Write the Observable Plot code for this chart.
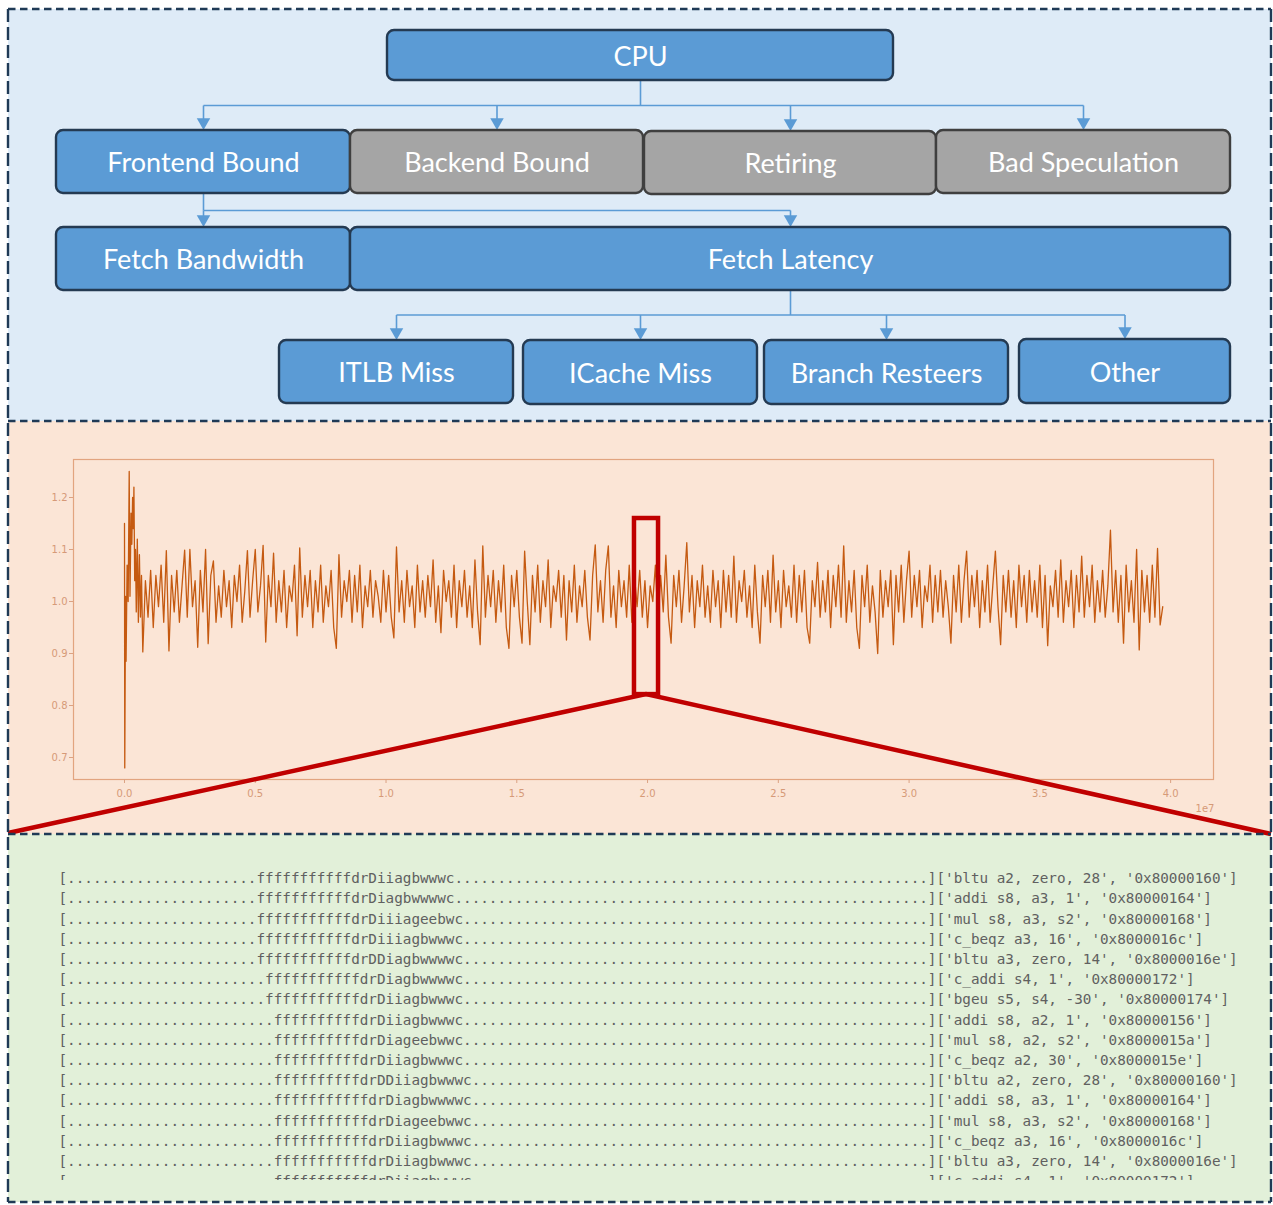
<!DOCTYPE html>
<html><head><meta charset="utf-8">
<script src="https://cdn.jsdelivr.net/npm/d3@7"></script>
<script src="https://cdn.jsdelivr.net/npm/@observablehq/plot@0.6"></script>
<style>
html,body{margin:0;padding:0;background:#fff;}
#fig{position:relative;width:1273px;height:1205px;overflow:hidden;}
#fig > svg{position:absolute;left:0;}
</style></head><body><div id="fig"></div>
<script>
// ---------------- DATA ----------------
// Top-down taxonomy (node, parent, on the analysed path)
const treeNodes   = ["CPU","Frontend Bound","Backend Bound","Retiring","Bad Speculation","Fetch Bandwidth","Fetch Latency","ITLB Miss","ICache Miss","Branch Resteers","Other"];
const treeParents = [null,"CPU","CPU","CPU","CPU","Frontend Bound","Frontend Bound","Fetch Latency","Fetch Latency","Fetch Latency","Fetch Latency"];
const treeOnPath  = [true,true,false,false,false,true,true,true,true,true,true];

// Time series: warm-up samples (cycles, value) then regularly sampled steady part
const warmupT = [0,1e4,4e4,6e4,1.0e5,1.4e5,1.8e5,2.1e5,2.5e5,2.8e5,3.1e5,3.4e5,3.6e5,3.9e5,4.2e5,4.5e5,4.9e5,5.3e5,5.7e5,6.1e5,6.5e5];
const warmupV = [1.15,0.68,1.01,0.885,1.07,1.00,1.25,1.01,1.17,1.11,1.20,1.14,1.22,1.04,1.10,0.98,1.12,0.96,1.09,0.97,1.05];
const steadyStart = 7e5;
const sampleStep = 1e5;
const steadyValues = [
0.903,1.04,0.97,1.06,0.95,1.05,0.99,1.07,0.96,1.098,
0.905,1.05,0.98,1.06,0.96,1.03,1.099,0.97,1.10,0.99,
1.04,0.912,1.06,0.98,1.10,0.919,1.05,1.078,0.96,1.03,
0.97,1.06,0.99,1.04,0.95,1.05,1.00,1.07,0.96,1.02,
1.098,0.97,1.04,1.10,0.98,1.03,1.108,0.922,1.05,0.99,
1.093,0.96,1.04,0.98,1.06,0.95,1.03,1.00,1.07,0.934,
1.103,0.97,1.05,0.99,1.06,0.95,1.04,0.98,1.07,0.96,
1.03,0.99,1.06,0.95,0.91,1.09,0.97,1.04,1.00,1.06,
0.96,1.05,0.98,1.07,0.95,1.03,0.99,1.06,0.97,1.04,
1.01,0.96,1.06,0.98,1.05,0.97,0.93,1.105,0.98,1.04,
0.96,1.06,0.99,1.03,0.95,1.07,0.98,1.04,0.97,1.05,
0.99,1.08,0.96,1.03,0.94,1.06,1.00,1.04,0.97,1.07,
0.95,1.04,0.99,1.06,0.97,1.03,0.95,1.08,0.98,0.917,
1.107,0.97,1.05,0.99,1.06,0.96,1.04,0.98,1.07,0.95,
0.91,1.05,0.99,1.06,0.97,0.92,1.097,1.00,0.917,1.05,
0.98,1.07,0.96,1.04,0.99,1.08,0.95,1.03,1.00,1.06,
0.97,1.05,0.926,1.04,0.98,1.07,0.96,1.03,0.99,1.06,
0.97,0.926,1.05,1.109,0.98,1.04,0.96,1.06,1.107,0.97,
1.03,0.95,1.06,0.99,1.04,0.97,1.07,0.96,1.05,0.99,
1.06,0.97,1.04,0.95,1.03,1.00,1.07,0.96,1.05,0.98,
1.089,0.97,0.92,1.05,0.99,1.06,0.96,1.03,1.113,0.98,
1.05,0.95,1.04,0.99,1.07,0.97,1.03,0.96,1.06,0.99,
1.04,0.95,1.06,0.98,1.05,0.97,1.087,0.96,1.04,1.00,
1.06,0.97,1.03,0.95,1.07,0.98,0.92,1.05,0.99,1.06,
0.96,1.089,0.98,1.04,0.95,1.06,0.99,1.03,0.97,1.07,
0.96,1.05,0.98,1.06,0.95,0.92,1.04,0.99,1.075,0.97,
1.04,0.98,1.06,0.95,1.05,0.99,1.07,0.97,1.107,0.96,
1.04,0.98,1.06,0.95,0.91,1.05,0.99,1.07,0.96,1.03,
0.98,0.90,1.06,0.97,1.04,0.99,1.06,0.917,1.05,0.98,
1.07,0.96,1.04,1.097,0.97,1.05,0.99,1.06,0.95,1.03,
1.00,1.07,0.96,1.05,0.98,1.06,0.97,1.04,0.99,0.92,
1.05,0.98,1.07,0.96,1.04,1.097,0.97,1.05,0.99,1.06,
0.95,1.04,0.98,1.07,0.96,1.03,1.097,0.99,0.917,1.05,
0.98,1.06,0.97,1.04,0.95,1.07,0.99,1.05,0.96,1.06,
0.98,1.04,0.97,1.07,0.95,1.05,0.915,1.03,0.99,1.06,
0.97,1.08,0.96,1.04,0.99,1.06,0.95,1.05,0.98,1.087,
0.97,1.05,0.99,1.07,0.96,1.04,0.98,1.06,0.97,1.03,
1.137,0.98,1.06,0.96,1.05,0.92,1.07,0.98,1.04,0.96,
1.10,0.907,1.06,0.98,1.05,0.96,1.07,0.97,1.102,0.955,
0.99];
const xTicks = [0,0.5e7,1.0e7,1.5e7,2.0e7,2.5e7,3.0e7,3.5e7,4.0e7];
const yTicks = [0.7,0.8,0.9,1.0,1.1,1.2];
const xExponentLabel = "1e7";
// zoomed window on the series
const zoomWindow = {t0: 1.950e7, t1: 2.042e7, lo: 0.821, hi: 1.1596};

// Pipeline trace lines
const traceWidth = 100;
const traceLead   = [22,22,22,22,22,23,23,24,24,24,24,24,24,24,24,24];
const traceFetch  = [11,11,11,11,11,11,11,10,10,10,10,11,11,11,11,11];
const traceStages = ["drDiiagbwwwc","drDiagbwwwwc","drDiiiageebwc","drDiiiagbwwwc","drDDiagbwwwwc","drDiagbwwwwc","drDiiagbwwwc","drDiiagbwwwc","drDiageebwwc","drDiiagbwwwc","drDDiiagbwwwc","drDiagbwwwwc","drDiageebwwc","drDiiagbwwwc","drDiiagbwwwc","drDiiagbwwwc"];
const traceInstr  = ["bltu a2, zero, 28","addi s8, a3, 1","mul s8, a3, s2","c_beqz a3, 16","bltu a3, zero, 14","c_addi s4, 1","bgeu s5, s4, -30","addi s8, a2, 1","mul s8, a2, s2","c_beqz a2, 30","bltu a2, zero, 28","addi s8, a3, 1","mul s8, a3, s2","c_beqz a3, 16","bltu a3, zero, 14","c_addi s4, 1"];
const tracePC     = ["0x80000160","0x80000164","0x80000168","0x8000016c","0x8000016e","0x80000172","0x80000174","0x80000156","0x8000015a","0x8000015e","0x80000160","0x80000164","0x80000168","0x8000016c","0x8000016e","0x80000172"];

// ---------------- LAYOUT ----------------
const W = 1273, H = 1205;
const panelLeft = 8, panelRight = 1271;
const panels = [
  {top: 9,   bottom: 421,  fill: "#deebf7"},
  {top: 421, bottom: 834,  fill: "#fbe5d6"},
  {top: 834, bottom: 1202, fill: "#e2f0d9"}
];
const boxLayout = {
  "CPU":             [387, 893, 30, 80],
  "Frontend Bound":  [56, 350, 130, 193],
  "Backend Bound":   [350, 643, 130, 193],
  "Retiring":        [644, 936, 131, 194],
  "Bad Speculation": [936, 1230, 130, 193],
  "Fetch Bandwidth": [56, 350, 227, 290],
  "Fetch Latency":   [350, 1230, 227, 290],
  "ITLB Miss":       [279, 513, 340, 403],
  "ICache Miss":     [523, 757, 340, 404],
  "Branch Resteers": [764, 1008, 340, 404],
  "Other":           [1019, 1230, 339, 403]
};
const BLUE = "#5b9bd5", GRAY = "#a5a5a5", BORDER = "#1f3a56";

const fig = d3.select("#fig");

// background panels
const bg = fig.append("svg").attr("width", W).attr("height", H).style("top", "0px");
bg.selectAll("rect").data(panels).join("rect")
  .attr("x", panelLeft).attr("width", panelRight - panelLeft)
  .attr("y", d => d.top).attr("height", d => d.bottom - d.top)
  .attr("fill", d => d.fill);

// ---------------- TOP: taxonomy diagram ----------------
const boxes = treeNodes.map((name, i) => {
  const [x1, x2, y1, y2] = boxLayout[name];
  return {name, parent: treeParents[i], onPath: treeOnPath[i], x1, x2, y1, y2, cx: (x1 + x2) / 2, cy: (y1 + y2) / 2};
});
const segs = [], heads = [];
for (const p of boxes) {
  const kids = boxes.filter(b => b.parent === p.name);
  if (!kids.length) continue;
  const busY = (p.y2 + d3.min(kids, k => k.y1)) / 2;
  segs.push({x1: p.cx, y1: p.y2, x2: p.cx, y2: busY});
  const xs = [p.cx, ...kids.map(k => k.cx)];
  segs.push({x1: d3.min(xs), y1: busY, x2: d3.max(xs), y2: busY});
  for (const k of kids) {
    segs.push({x1: k.cx, y1: busY, x2: k.cx, y2: k.y1 - 10});
    heads.push({x: k.cx, y: k.y1 - 8.3});
  }
}
const diagram = Plot.plot({
  width: W, height: 421, margin: 0,
  x: {domain: [0, W], range: [0, W], axis: null},
  y: {domain: [0, 421], range: [0, 421], axis: null},
  color: {type: "identity"},
  style: {background: "transparent", overflow: "visible"},
  marks: [
    Plot.link(segs, {x1: "x1", y1: "y1", x2: "x2", y2: "y2", stroke: BLUE, strokeWidth: 1.6}),
    Plot.dot(heads, {x: "x", y: "y", symbol: "triangle", rotate: 180, r: 5, fill: BLUE, stroke: null}),
    Plot.rect(boxes, {x1: "x1", x2: "x2", y1: "y1", y2: "y2", rx: 7,
      fill: d => d.onPath ? BLUE : GRAY, stroke: d => d.onPath ? "#243a52" : "#3f3f3f", strokeWidth: 2.4}),
    Plot.text(boxes, {x: "cx", y: "cy", text: "name", fill: "white", fontSize: 27, fontFamily: "Lato", dy: 1.5})
  ]
});
diagram.style.top = "0px";
fig.node().appendChild(diagram);

// ---------------- MIDDLE: time series ----------------
const series = [
  ...warmupT.map((t, i) => ({t, v: warmupV[i]})),
  ...steadyValues.map((v, i) => ({t: steadyStart + i * sampleStep, v}))
];
const chartH = 834 - 421;
const chart = Plot.plot({
  width: W, height: chartH,
  marginLeft: 73, marginRight: 60, marginTop: 38, marginBottom: 55,
  x: {domain: [-1.95e6, 4.164e7]},
  y: {domain: [0.6577, 1.2731]},
  style: {background: "transparent", overflow: "visible", fontFamily: "DejaVu Sans", fontSize: "10px"},
  marks: [
    Plot.frame({stroke: "#e2a47f", strokeWidth: 1.2}),
    Plot.axisX(xTicks, {tickSize: 4, tickPadding: 6, tickFormat: d => (d / 1e7).toFixed(1), label: null, stroke: "#dba283", fill: "#d69a78"}),
    Plot.axisY(yTicks, {tickSize: 4, tickPadding: 2, tickFormat: d => d.toFixed(1), label: null, stroke: "#dba283", fill: "#d69a78"}),
    Plot.line(series, {x: "t", y: "v", stroke: "#c55a11", strokeWidth: 1.3}),
    Plot.rect([zoomWindow], {x1: "t0", x2: "t1", y1: "lo", y2: "hi", fill: "none", stroke: "#c00000", strokeWidth: 4.5}),
    Plot.text([xExponentLabel], {frameAnchor: "bottom-right", textAnchor: "end", dy: 32, dx: 1, fill: "#d69a78", fontSize: 10})
  ]
});
chart.style.top = "421px";
fig.node().appendChild(chart);
{
  const sx = chart.scale("x"), sy = chart.scale("y");
  const ax = sx.apply((zoomWindow.t0 + zoomWindow.t1) / 2), ay = sy.apply(zoomWindow.lo);
  d3.select(chart).append("path")
    .attr("d", `M${panelLeft},${chartH - 1}L${ax},${ay}L${panelRight},${chartH}`)
    .attr("fill", "none").attr("stroke", "#c00000").attr("stroke-width", 4.5);
}

// ---------------- BOTTOM: pipeline trace ----------------
const traceLines = traceStages.map((s, i) => {
  const body = ".".repeat(traceLead[i]) + "f".repeat(traceFetch[i]) + s;
  return "[" + body + ".".repeat(traceWidth - body.length) + "]" + "['" + traceInstr[i] + "', '" + tracePC[i] + "']";
});
const trace = Plot.plot({
  width: W, height: 1205 - 834,
  marginTop: 0, marginLeft: 58, marginRight: 0, marginBottom: 25,
  y: {domain: [0, 15], range: [44, 347.2], axis: null},
  style: {background: "transparent"},
  marks: [
    Plot.text(traceLines, {frameAnchor: "left", y: (d, i) => i, text: d => d, textAnchor: "start",
      fontFamily: "DejaVu Sans Mono", fontSize: 14.3, fill: "#606060", clip: true})
  ]
});
trace.style.top = "834px";
fig.node().appendChild(trace);

// dashed panel borders on top
const fg = fig.append("svg").attr("width", W).attr("height", H).style("top", "0px").style("pointer-events", "none");
const hLines = [9, 421, 834, 1202];
fg.selectAll("line.h").data(hLines).join("line").attr("class", "h")
  .attr("x1", panelLeft).attr("x2", panelRight).attr("y1", d => d).attr("y2", d => d)
  .attr("stroke", BORDER).attr("stroke-width", 2.4).attr("stroke-dasharray", "7.5 4.5");
fg.selectAll("line.v").data([panelLeft, panelRight]).join("line").attr("class", "v")
  .attr("x1", d => d).attr("x2", d => d).attr("y1", 9).attr("y2", 1202)
  .attr("stroke", BORDER).attr("stroke-width", 2.4).attr("stroke-dasharray", "13 5");
</script></body></html>
